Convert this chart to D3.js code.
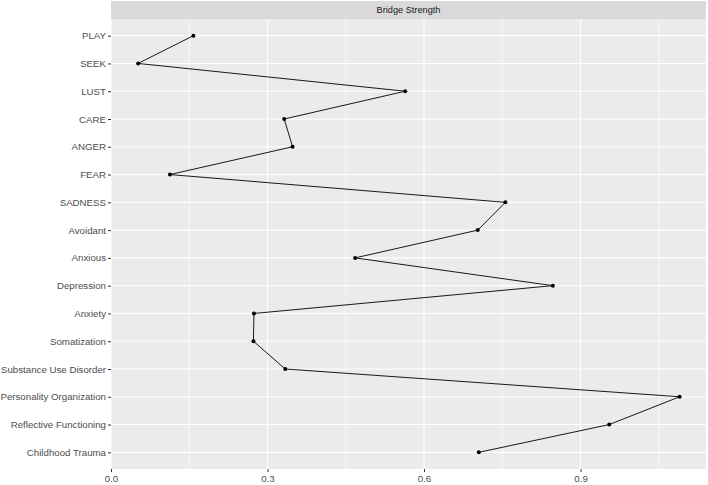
<!DOCTYPE html>
<html><head><meta charset="utf-8">
<script src="https://cdn.jsdelivr.net/npm/d3@7"></script>
<style>body{margin:0;background:#fff;} svg{display:block;font-family:"Liberation Sans",Arial,sans-serif;}</style>
</head><body>
<script>
const categories = ["PLAY","SEEK","LUST","CARE","ANGER","FEAR","SADNESS","Avoidant","Anxious","Depression","Anxiety","Somatization","Substance Use Disorder","Personality Organization","Reflective Functioning","Childhood Trauma"];
const values = [0.158,0.052,0.564,0.332,0.348,0.113,0.756,0.703,0.468,0.847,0.274,0.273,0.334,1.090,0.955,0.705];
const xTicks = [0,0.3,0.6,0.9];
const xMinor = [0.15,0.45,0.75,1.05];
const stripTitle = "Bridge Strength";

const W=708,H=485;
const L=111,R=706,T=19,B=469,stripTop=1;
const svg=d3.select("body").append("svg").attr("width",W).attr("height",H);
const x=d3.scaleLinear().domain([0,1.1405]).range([L,R]);
const y=d3.scalePoint().domain(categories).range([T,B]).padding(0.6);

svg.append("rect").attr("x",L).attr("y",stripTop).attr("width",R-L).attr("height",T-stripTop).attr("fill","#D9D9D9");
svg.append("text").attr("x",(L+R)/2).attr("y",(stripTop+T)/2).attr("dy","0.35em").attr("text-anchor","middle")
  .attr("font-size",9.2).attr("fill","#1A1A1A").text(stripTitle);
svg.append("rect").attr("x",L).attr("y",T).attr("width",R-L).attr("height",B-T).attr("fill","#EBEBEB");

const g=svg.append("g");
g.selectAll("line.minor").data(xMinor).join("line").attr("x1",d=>x(d)).attr("x2",d=>x(d)).attr("y1",T).attr("y2",B)
  .attr("stroke","#fff").attr("stroke-width",0.55);
g.selectAll("line.majx").data(xTicks).join("line").attr("x1",d=>x(d)).attr("x2",d=>x(d)).attr("y1",T).attr("y2",B)
  .attr("stroke","#fff").attr("stroke-width",1.1);
g.selectAll("line.majy").data(categories).join("line").attr("x1",L).attr("x2",R).attr("y1",d=>y(d)).attr("y2",d=>y(d))
  .attr("stroke","#fff").attr("stroke-width",1.1);

const pts=categories.map((c,i)=>[x(values[i]),y(c)]);
svg.append("path").attr("d",d3.line()(pts)).attr("fill","none").attr("stroke","#000").attr("stroke-width",0.9);
svg.selectAll("circle").data(pts).join("circle").attr("cx",d=>d[0]).attr("cy",d=>d[1]).attr("r",2).attr("fill","#000");

const xa=svg.append("g").attr("transform",`translate(0,${B})`).call(d3.axisBottom(x).tickValues(xTicks).tickFormat(d3.format(".1f")).tickSize(3).tickPadding(3.5));
const ya=svg.append("g").attr("transform",`translate(${L},0)`).call(d3.axisLeft(y).tickSize(3).tickPadding(2));
[xa,ya].forEach(a=>{a.select(".domain").remove();a.selectAll(".tick line").attr("stroke","#333").attr("stroke-width",1);
  a.selectAll("text").attr("fill","#4D4D4D").attr("font-size",9.7).attr("font-family","Liberation Sans,Arial,sans-serif");});
</script>
</body></html>
